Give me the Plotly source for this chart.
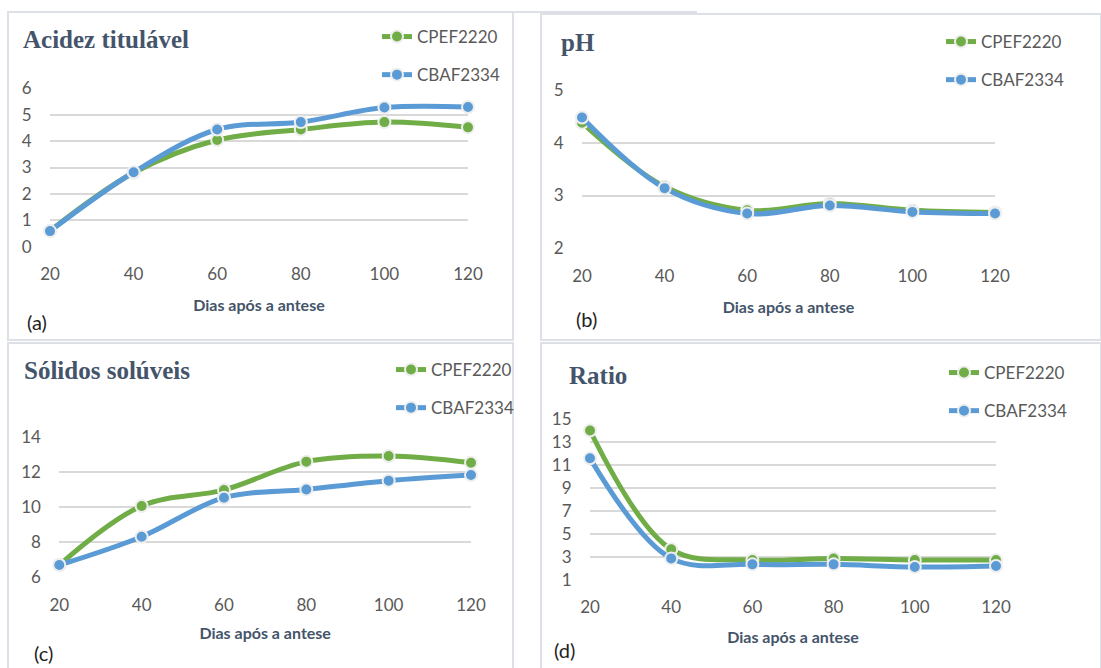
import plotly.graph_objects as go

W, H = 1101, 668

days = [20, 40, 60, 80, 100, 120]
series_names = ["CPEF2220", "CBAF2334"]

acidez_cpef = [0.60, 2.80, 4.04, 4.44, 4.72, 4.52]
acidez_cbaf = [0.59, 2.82, 4.44, 4.72, 5.27, 5.29]

ph_cpef = [4.38, 3.17, 2.72, 2.85, 2.72, 2.68]
ph_cbaf = [4.48, 3.14, 2.66, 2.81, 2.69, 2.66]

solidos_cpef = [6.70, 10.06, 10.97, 12.58, 12.90, 12.52]
solidos_cbaf = [6.70, 8.31, 10.53, 11.00, 11.50, 11.82]

ratio_cpef = [14.0, 3.67, 2.74, 2.86, 2.74, 2.74]
ratio_cbaf = [11.58, 2.88, 2.36, 2.36, 2.13, 2.22]

titles = ["Acidez titulável", "pH", "Sólidos solúveis", "Ratio"]
panel_labels = ["(a)", "(b)", "(c)", "(d)"]
xlabel = "Dias após a antese"

GREEN = "#70AD47"
BLUE = "#5B9BD5"
TXT = "#44546A"
TICK = "#595959"
GRID = "#D9D9D9"
BORDER = "#DDE1E7"


def px_x(v):
    return v / W


def px_y(v):
    return 1 - v / H


# panel layout in pixels: (x0, x1, ytop, ybottom)
panels = [
    dict(x=(50, 468), y=(88.3, 246.7), rng=[0, 6], dtick=1, tick0=0, standoff=16),
    dict(x=(582, 995), y=(90, 248.3), rng=[2, 5], dtick=1, tick0=0, standoff=17),
    dict(x=(59.3, 471), y=(436.7, 577.3), rng=[6, 14], dtick=2, tick0=0, standoff=14),
    dict(x=(590, 996), y=(419, 580), rng=[1, 15], dtick=2, tick0=1, standoff=15),
]
data = [
    (acidez_cpef, acidez_cbaf),
    (ph_cpef, ph_cbaf),
    (solidos_cpef, solidos_cbaf),
    (ratio_cpef, ratio_cbaf),
]

fig = go.Figure()
layout = {}
annotations = []
for i, (p, (s1, s2)) in enumerate(zip(panels, data)):
    k = "" if i == 0 else str(i + 1)
    xa, ya = "x" + k, "y" + k
    leg = "legend" + k
    for name, vals, col in [(series_names[0], s1, GREEN), (series_names[1], s2, BLUE)]:
        fig.add_trace(go.Scatter(
            x=days, y=vals, name=name, mode="lines+markers",
            xaxis=xa, yaxis=ya, legend=leg, legendgroup=name + k,
            line=dict(color=col, width=5, shape="spline", smoothing=1),
            marker=dict(color=col, size=12, line=dict(color="#EEEEEE", width=2)),
            cliponaxis=False,
        ))
    layout["xaxis" + k] = dict(
        domain=[px_x(p["x"][0]), px_x(p["x"][1])], range=[20, 120],
        tickvals=days, showgrid=False, zeroline=False, showline=False,
        ticks="outside", ticklen=12, tickcolor="rgba(0,0,0,0)",
        tickfont=dict(family="Lato", size=17, color=TICK),
        anchor=ya, automargin=False,
        title=dict(text=xlabel, font=dict(family="Lato", size=16, color=TXT, weight="bold"),
                   standoff=p["standoff"]),
    )
    layout["yaxis" + k] = dict(
        domain=[px_y(p["y"][1]), px_y(p["y"][0])], range=p["rng"], dtick=p["dtick"], tick0=p["tick0"],
        showgrid=True, gridcolor=GRID, gridwidth=1.5, zeroline=False, showline=False,
        ticks="outside", ticklen=14, tickcolor="rgba(0,0,0,0)",
        tickfont=dict(family="Lato", size=17, color=TICK),
        anchor=xa, automargin=False,
    )

leg_pos = [(377, 19), (941, 24), (391, 352), (944, 355)]
for i, (lx, ly) in enumerate(leg_pos):
    k = "" if i == 0 else str(i + 1)
    layout["legend" + k] = dict(
        x=px_x(lx), y=px_y(ly), xanchor="left", yanchor="top",
        font=dict(family="Lato", size=17, color=TICK),
        bgcolor="rgba(0,0,0,0)", tracegroupgap=13,
    )

title_pos = [(21, 39), (559, 43), (22, 370), (567, 375)]
for t, (tx, ty) in zip(titles, title_pos):
    annotations.append(dict(
        text=t, x=px_x(tx), y=px_y(ty), xref="paper", yref="paper",
        xanchor="left", yanchor="middle", showarrow=False,
        font=dict(family="Liberation Serif", size=25, color=TXT, weight="bold"),
    ))
lab_pos = [(25, 322), (574, 319), (32, 653), (552, 650)]
for t, (tx, ty) in zip(panel_labels, lab_pos):
    annotations.append(dict(
        text=t, x=px_x(tx), y=px_y(ty), xref="paper", yref="paper",
        xanchor="left", yanchor="middle", showarrow=False,
        font=dict(family="Lato", size=20, color="#222222"),
    ))

shapes = []
for (x0, y0, x1, y1) in [(8, 12, 513, 340), (541, 14, 1101, 340), (8, 343, 513, 670), (541, 343, 1101, 670)]:
    shapes.append(dict(type="rect", xref="paper", yref="paper",
                       x0=px_x(x0), x1=px_x(x1), y0=px_y(y1), y1=px_y(y0),
                       line=dict(color=BORDER, width=2), fillcolor="rgba(0,0,0,0)", layer="below"))
shapes.append(dict(type="line", xref="paper", yref="paper", x0=px_x(8), x1=px_x(697),
                   y0=px_y(12), y1=px_y(12), line=dict(color=BORDER, width=2)))

fig.update_layout(
    width=W, height=H, margin=dict(l=0, r=0, t=0, b=0, autoexpand=False),
    paper_bgcolor="white", plot_bgcolor="white",
    annotations=annotations, shapes=shapes, showlegend=True,
    **layout,
)
fig.write_html("out.html")
